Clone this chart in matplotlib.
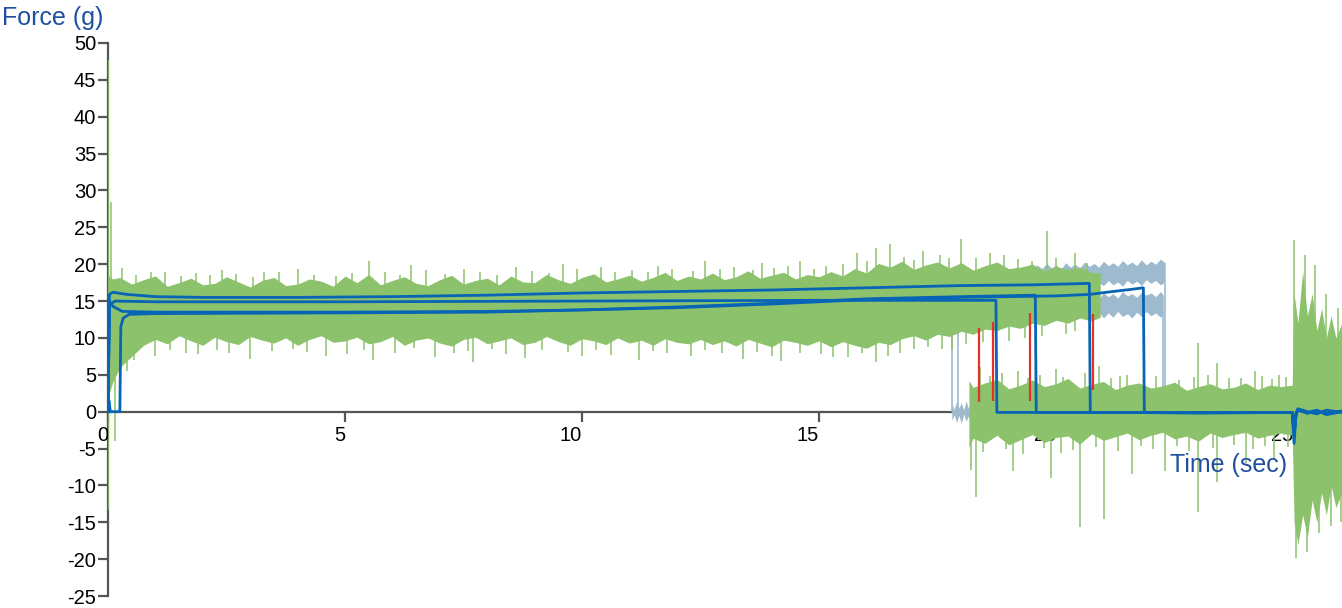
import matplotlib
matplotlib.use('Agg')
import matplotlib.pyplot as plt

plt.rcParams['font.family'] = ['Liberation Sans', 'DejaVu Sans']
plt.rcParams['axes.unicode_minus'] = False

# green trial, hold phase: upper / lower edge of the noise, read every 0.25 s
green_a_t = [0.0, 0.1, 0.25, 0.5, 0.75, 1.0, 1.25, 1.5, 1.75, 2.0, 2.25, 2.5, 2.75, 3.0, 3.25,
             3.5, 3.75, 4.0, 4.25, 4.5, 4.75, 5.0, 5.25, 5.5, 5.75, 6.0, 6.25, 6.5, 6.75, 7.0,
             7.25, 7.5, 7.75, 8.0, 8.25, 8.5, 8.75, 9.0, 9.25, 9.5, 9.75, 10.0, 10.25, 10.5,
             10.75, 11.0, 11.25, 11.5, 11.75, 12.0, 12.25, 12.5, 12.75, 13.0, 13.25, 13.5,
             13.75, 14.0, 14.25, 14.5, 14.75, 15.0, 15.25, 15.5, 15.75, 16.0, 16.25, 16.5,
             16.75, 17.0, 17.25, 17.5, 17.75, 18.0, 18.25, 18.5, 18.75, 19.0, 19.25, 19.5,
             19.75, 20.0, 20.25, 20.5, 20.75, 20.93]
green_a_hi = [18.5, 18.0,
              18.2, 17.3, 17.9, 18.4, 17.0, 17.5, 18.1, 17.2, 17.4, 18.3,
              17.6, 16.9, 17.8, 18.2, 17.1, 17.3, 18.0, 17.7, 17.0, 18.4,
              17.5, 18.6, 17.2, 17.8, 18.3, 17.4, 17.1, 17.9, 18.5, 17.3,
              17.8, 18.1, 17.2, 18.4, 17.6, 17.5, 18.6, 17.9, 17.4, 18.2,
              18.7, 17.6, 18.0, 18.5, 17.7, 18.2, 18.9, 17.8, 18.4, 18.0,
              18.8, 17.9, 18.3, 19.1, 18.1, 18.5, 18.9, 18.0, 18.6, 18.3,
              19.0, 18.4, 19.4, 18.8, 20.1, 19.6, 20.4, 19.3, 19.9, 20.3,
              19.5, 20.2, 19.2, 19.8, 20.3, 19.4, 19.6, 20.0, 19.1, 19.7,
              19.3, 19.6, 18.9, 18.8]
green_a_lo = [2.0, 4.0,
              6.0, 7.5, 9.0, 9.8, 9.2, 10.3, 9.6, 9.0, 10.1, 9.5,
              9.1, 10.2, 9.7, 9.3, 10.0, 9.0, 9.8, 10.3, 9.4, 9.6,
              10.1, 9.2, 9.5, 10.2, 9.0, 9.7, 10.0, 9.3, 8.9, 9.8,
              10.1, 9.2, 9.6, 10.0, 9.1, 9.4, 10.2, 9.5, 9.0, 9.9,
              9.6, 9.1, 10.0, 9.3, 9.7, 9.0, 9.9, 9.4, 9.2, 9.8,
              9.1, 9.6, 8.9, 9.8, 9.3, 8.8, 9.7, 9.4, 9.0, 9.6,
              8.8, 9.5, 9.0, 8.6, 9.4, 9.1, 9.9, 10.3, 9.7, 10.5,
              10.2, 10.9, 10.5, 11.2, 11.0, 11.6, 11.3, 12.0, 11.7, 12.4,
              12.0, 12.7, 12.3, 12.8]

# green trial, release phase around zero
green_b_t = [18.16, 18.25, 18.5, 18.75, 19.0, 19.25, 19.5, 19.75, 20.0, 20.25, 20.5, 20.75,
             21.0, 21.25, 21.5, 21.75, 22.0, 22.25, 22.5, 22.75, 23.0, 23.25, 23.5, 23.75,
             24.0, 24.25, 24.5, 24.75, 24.98, 25.02, 25.1, 25.2, 25.3, 25.4, 25.5, 25.6, 25.7,
             25.8, 25.9, 26.03]
green_b_hi = [4.2, 3.3, 3.9, 4.4, 3.1, 3.6, 4.3, 3.4, 3.8, 4.5, 3.2, 3.7, 4.1, 3.0, 3.6, 3.9,
              3.2, 3.5, 4.0, 2.9, 3.4, 3.8, 3.1, 3.3, 3.9, 3.0, 3.6, 3.4, 3.6,
              16.0, 12.0, 19.0, 13.0, 16.0, 11.0, 14.0, 10.0, 13.0, 10.0, 12.0]
green_b_lo = [-4.8, -3.6, -4.3, -3.2, -4.5, -3.8, -3.1, -4.2, -3.5, -3.3, -4.4, -3.0, -3.9,
              -3.4, -2.9, -3.8, -3.2, -2.8, -3.7, -3.3, -4.0, -2.9, -3.5, -3.1, -2.8, -3.6,
              -3.2, -2.9, -3.2,
              -15.0, -18.0, -14.0, -17.0, -12.0, -15.0, -11.0, -14.0, -10.0, -13.0, -11.0]

# single-sample spikes of the green trial (hold phase)
spike_a_t = [0.0, 0.06, 0.3, 1.2, 2.4, 3.3, 4.0, 5.5, 6.4, 7.5, 8.6, 9.6, 10.4, 11.6, 12.6,
             13.8, 14.6, 15.8, 16.2, 16.5, 17.2, 18.0, 18.6, 19.8, 20.4,
             0.6, 0.9, 1.55, 1.85, 2.15, 2.7, 3.05, 3.6, 4.35, 4.8, 5.15, 5.85, 6.15, 6.7,
             7.1, 7.85, 8.2, 8.95, 9.3, 9.9, 10.7, 11.05, 11.4, 11.9, 12.35, 12.9, 13.2,
             13.6, 14.05, 14.35, 14.9, 15.15, 15.5, 16.0, 16.8, 17.0, 17.55, 17.75, 18.3,
             18.9, 19.2, 19.5, 20.0, 20.65]
spike_a_hi = [47.7, 28.5, 19.5, 19.0, 19.2, 19.0, 19.3, 20.4, 19.9, 19.4, 19.6, 20.0, 19.6,
              19.8, 20.4, 20.2, 20.5, 21.5, 22.2, 22.8, 21.8, 23.4, 21.5, 24.5, 21.5,
              18.6, 18.9, 18.4, 18.8, 18.5, 18.7, 18.3, 18.9, 18.6, 18.4, 18.8, 19.0, 18.5,
              19.2, 18.7, 18.9, 18.6, 19.1, 18.8, 19.3, 19.0, 19.2, 18.9, 19.4, 19.1, 19.3,
              19.6, 19.2, 19.5, 19.8, 19.4, 19.7, 20.0, 20.5, 21.0, 20.6, 21.2, 20.8, 20.9,
              21.3, 20.7, 20.4, 20.8, 20.2]
spike_a_lo_t = [0.0, 0.15, 0.4, 1.0, 1.9, 3.0, 4.6, 5.6, 6.9, 7.7, 8.8, 10.0, 11.2, 12.3,
                13.4, 14.2, 15.3, 16.2, 17.0, 17.8, 19.0, 20.2,
                0.55, 1.3, 1.65, 2.3, 2.55, 3.45, 3.9, 4.2, 5.05, 5.4, 6.05, 6.45, 7.3, 7.6,
                8.1, 8.4, 9.15, 9.7, 10.3, 10.6, 11.5, 11.8, 12.6, 12.95, 13.7, 14.0, 14.6,
                15.05, 15.6, 15.9, 16.45, 16.7, 17.3, 17.6, 18.1, 18.45, 19.35, 19.7, 20.4]
spike_a_lo = [-13.4, -4.0, 5.5, 7.5, 7.8, 7.2, 7.6, 7.0, 7.4, 6.7, 7.3, 7.6, 7.0, 7.5, 7.2,
              6.9, 7.4, 6.7, 8.5, 8.3, 9.6, 10.5,
              7.0, 8.3, 8.0, 8.4, 7.9, 8.2, 8.5, 8.1, 7.8, 8.4, 8.0, 8.6, 7.9, 8.2, 8.5, 7.8,
              8.3, 8.1, 8.4, 7.7, 8.2, 8.0, 8.3, 7.9, 8.1, 7.6, 8.0, 7.8, 7.4, 7.9, 7.6, 8.0,
              8.8, 8.5, 9.2, 9.4, 10.0, 10.3, 11.0]

# single-sample spikes of the green trial (release phase)
spike_b_t = [18.4, 19.2, 20.0, 20.9, 21.5, 23.0, 23.4, 24.2, 24.7, 25.02, 25.25, 25.45,
             25.7, 25.95,
             18.6, 18.85, 19.4, 19.65, 20.15, 20.6, 21.15, 21.35, 21.85, 22.1, 22.6, 22.9,
             23.2, 23.65, 23.9, 24.35, 24.55, 24.85]
spike_b_hi = [6.0, 5.5, 5.8, 6.2, 5.0, 9.3, 6.6, 5.5, 5.0, 23.3, 21.2, 19.9, 16.0, 14.0,
              4.8, 5.2, 4.6, 5.0, 4.7, 5.3, 4.5, 4.9, 4.4, 4.8, 4.3, 4.7, 5.0, 4.5, 4.6, 4.9,
              4.4, 4.7]
spike_b_lo_t = [18.2, 18.3, 19.1, 19.9, 20.5, 21.0, 21.6, 22.3, 23.0, 23.4, 24.0, 24.6,
                25.05, 25.3, 25.55, 25.8, 26.0,
                18.45, 18.95, 19.3, 19.75, 20.1, 20.35, 20.85, 21.3, 21.8, 22.05, 22.55,
                22.8, 23.3, 23.75, 24.15, 24.4, 24.9]
spike_b_lo = [-7.9, -11.6, -8.0, -9.0, -15.7, -14.5, -8.5, -8.0, -13.6, -9.5, -7.0, -6.5,
              -19.8, -19.0, -16.5, -15.5, -15.0,
              -5.5, -5.0, -5.8, -4.9, -5.6, -5.2, -4.8, -5.4, -4.6, -5.1, -4.7, -5.3, -4.9,
              -4.5, -5.0, -4.6, -4.8]

# light blue trials
gray_hi_t = [19.5, 19.6, 19.7, 19.8, 19.9, 20.0, 20.1, 20.2, 20.3, 20.4, 20.5, 20.6, 20.7,
             20.8, 20.9, 21.0, 21.1, 21.2, 21.3, 21.4, 21.5, 21.6, 21.7, 21.8, 21.9, 22.0,
             22.1, 22.2, 22.3]
gray_hi_top = [19.2, 19.9, 19.4, 20.1, 19.5, 19.9, 19.3, 20.2, 19.6, 20.0, 19.5, 20.3, 19.7,
               20.1, 19.6, 20.4, 19.8, 20.2, 19.7, 20.5, 19.9, 20.3, 19.8, 20.6, 19.9, 20.4,
               20.0, 20.7, 20.2]
gray_hi_bot = [17.4, 16.8, 17.5, 16.9, 17.6, 17.0, 17.3, 16.9, 17.6, 17.1, 17.4, 16.8, 17.7,
               17.0, 17.5, 17.1, 17.8, 17.2, 17.6, 17.0, 17.8, 17.3, 17.7, 17.1, 17.9, 17.4,
               17.8, 17.2, 17.6]
gray_lo_t = [19.5, 19.6, 19.7, 19.8, 19.9, 20.0, 20.1, 20.2, 20.3, 20.4, 20.5, 20.6, 20.7,
             20.8, 20.9, 21.0, 21.1, 21.2, 21.3, 21.4, 21.5, 21.6, 21.7, 21.8, 21.9, 22.0,
             22.1, 22.2, 22.26]
gray_lo_top = [15.4, 15.9, 15.3, 16.0, 15.5, 15.8, 15.2, 16.1, 15.6, 15.9, 15.4, 16.2, 15.5,
               15.9, 15.3, 16.1, 15.6, 16.0, 15.4, 16.3, 15.7, 16.0, 15.5, 16.2, 15.8, 16.1,
               15.6, 16.3, 15.8]
gray_lo_bot = [13.2, 12.6, 13.4, 12.8, 13.3, 12.5, 13.5, 12.9, 13.2, 12.7, 13.4, 12.6, 13.3,
               12.9, 13.5, 12.7, 13.4, 12.8, 13.6, 12.9, 13.3, 12.7, 13.5, 12.9, 13.6, 13.0,
               13.4, 12.8, 13.3]
gray_zero_t = [17.8, 17.85, 17.9, 17.95, 18.0, 18.05, 18.1, 18.15, 18.2]
gray_zero_top = [1.0, 0.3, 1.4, 0.5, 1.2, 0.2, 1.5, 0.4, 1.2]
gray_zero_bot = [-1.2, -0.4, -1.5, -0.5, -1.6, -0.3, -1.3, -0.6, -1.5]
gray_drop_t = [17.81, 17.93, 22.26, 22.30]
gray_drop_top = [12.4, 11.0, 13.5, 17.5]

# red trials (only their release drops show)
red_drop_t = [18.38, 18.67, 19.45, 20.77]
red_drop_top = [11.3, 12.1, 13.4, 13.2]
red_drop_bot = [1.3, 1.5, 1.5, 2.9]

# dark blue trials
b1_t = [0, 0.03, 0.1, 0.4, 1, 2, 4, 6, 8, 10, 12, 14, 16, 18, 19.5, 20.7, 20.72, 21.5, 23,
        24.98, 25.02, 25.06, 25.1, 25.3, 25.5, 25.7, 26.03]
b1_v = [0, 15.9, 16.2, 15.9, 15.6, 15.5, 15.5, 15.6, 15.8, 16.1, 16.3, 16.5, 16.8, 17.1,
        17.2, 17.4, -0.1, -0.1, -0.2, -0.1, -3.0, -0.5, 0.3, -0.2, 0.1, -0.3, 0.0]
b2_t = [0, 0.03, 0.15, 1, 5, 10, 15, 18.73, 18.75, 20, 22, 24.98, 25.02, 25.06, 25.1, 25.3,
        25.5, 25.7, 26.03]
b2_v = [0, 14.5, 15.0, 14.9, 14.9, 15.0, 15.1, 15.1, -0.1, -0.1, -0.1, -0.1, -4.3, -0.2,
        0.4, 0.0, -0.3, 0.2, -0.1]
b3_t = [0, 0.03, 0.1, 0.3, 1, 5, 8, 10, 12, 14, 16, 18, 19.56, 19.58, 21, 23, 24.98, 25.02,
        25.06, 25.1, 25.3, 25.5, 25.7, 26.03]
b3_v = [0, 15.0, 14.3, 13.6, 13.5, 13.5, 13.6, 13.8, 14.2, 14.7, 15.3, 15.6, 15.8, -0.1,
        -0.1, -0.1, -0.1, -3.2, -0.4, 0.3, -0.1, 0.2, -0.4, 0.0]
b4_t = [0, 0.02, 0.05, 0.25, 0.27, 0.32, 0.45, 1, 5, 8, 10, 12, 14, 16, 18, 20, 20.7, 21.2,
        21.6, 21.84, 21.86, 23, 24.98, 25.02, 25.06, 25.1, 25.3, 25.5, 25.7, 26.03]
b4_v = [0, 1.5, 0, 0, 11.5, 12.7, 13.2, 13.3, 13.4, 13.5, 13.8, 14.1, 14.6, 15.2, 15.5,
        15.7, 15.9, 16.3, 16.6, 16.8, -0.1, -0.1, -0.1, -2.8, -0.3, 0.2, -0.2, 0.1, -0.2, 0.1]

GREEN = '#8bc26b'
BLUE = '#0864b4'
GRAY = '#9dbace'
RED = '#e8302a'
LABEL = '#1f4fa0'
AXIS = '#555555'

fig = plt.figure(figsize=(13.42, 6.08), dpi=100)
ax = fig.add_axes([108 / 1342, 12 / 608, 1234 / 1342, 553 / 608])

# light blue trials at the back
ax.fill_between(gray_hi_t, gray_hi_bot, gray_hi_top, color=GRAY, lw=0, zorder=1)
ax.fill_between(gray_lo_t, gray_lo_bot, gray_lo_top, color=GRAY, lw=0, zorder=1)
ax.fill_between(gray_zero_t, gray_zero_bot, gray_zero_top, color=GRAY, lw=0, zorder=1)
ax.vlines(gray_drop_t, 0, gray_drop_top, color=GRAY, lw=1.2, zorder=1)

# green trial
ax.fill_between(green_a_t, green_a_lo, green_a_hi, color=GREEN, lw=0, zorder=2)
ax.fill_between(green_b_t, green_b_lo, green_b_hi, color=GREEN, lw=0, zorder=2)
ax.vlines(spike_a_t, 13, spike_a_hi, color=GREEN, lw=1.1, zorder=2)
ax.vlines(spike_a_lo_t, 13, spike_a_lo, color=GREEN, lw=1.1, zorder=2)
ax.vlines(spike_b_t, 0, spike_b_hi, color=GREEN, lw=1.1, zorder=2)
ax.vlines(spike_b_lo_t, 0, spike_b_lo, color=GREEN, lw=1.1, zorder=2)

ax.vlines(red_drop_t, red_drop_bot, red_drop_top, color=RED, lw=1.6, zorder=3)

for t, v in [(b1_t, b1_v), (b2_t, b2_v), (b3_t, b3_v), (b4_t, b4_v)]:
    ax.plot(t, v, color=BLUE, lw=2.0, zorder=4)

ax.set_xlim(0, 26.03)
ax.set_ylim(-25, 50)
ax.set_axisbelow(True)
for side in ['top', 'right']:
    ax.spines[side].set_visible(False)
ax.spines['bottom'].set_position(('data', 0))
for side in ['left', 'bottom']:
    ax.spines[side].set_color(AXIS)
    ax.spines[side].set_linewidth(1.6)
    ax.spines[side].set_zorder(0.5)

ax.set_xticks([0, 5, 10, 15, 20, 25])
ax.set_yticks(range(-25, 51, 5))
ax.tick_params(axis='both', colors=AXIS, labelcolor='black', labelsize=14.5,
               length=7.5, width=1.6)
ax.tick_params(axis='y', pad=1)
ax.tick_params(axis='x', pad=3)
for lab in ax.get_xticklabels():
    lab.set_horizontalalignment('right')

fig.text(2 / 1342, 1 - 25 / 608, 'Force (g)', fontsize=18, color=LABEL, va='baseline')
fig.text(1170 / 1342, 1 - 472 / 608, 'Time (sec)', fontsize=18, color=LABEL, va='baseline')

fig.savefig('out.png', dpi=100)
